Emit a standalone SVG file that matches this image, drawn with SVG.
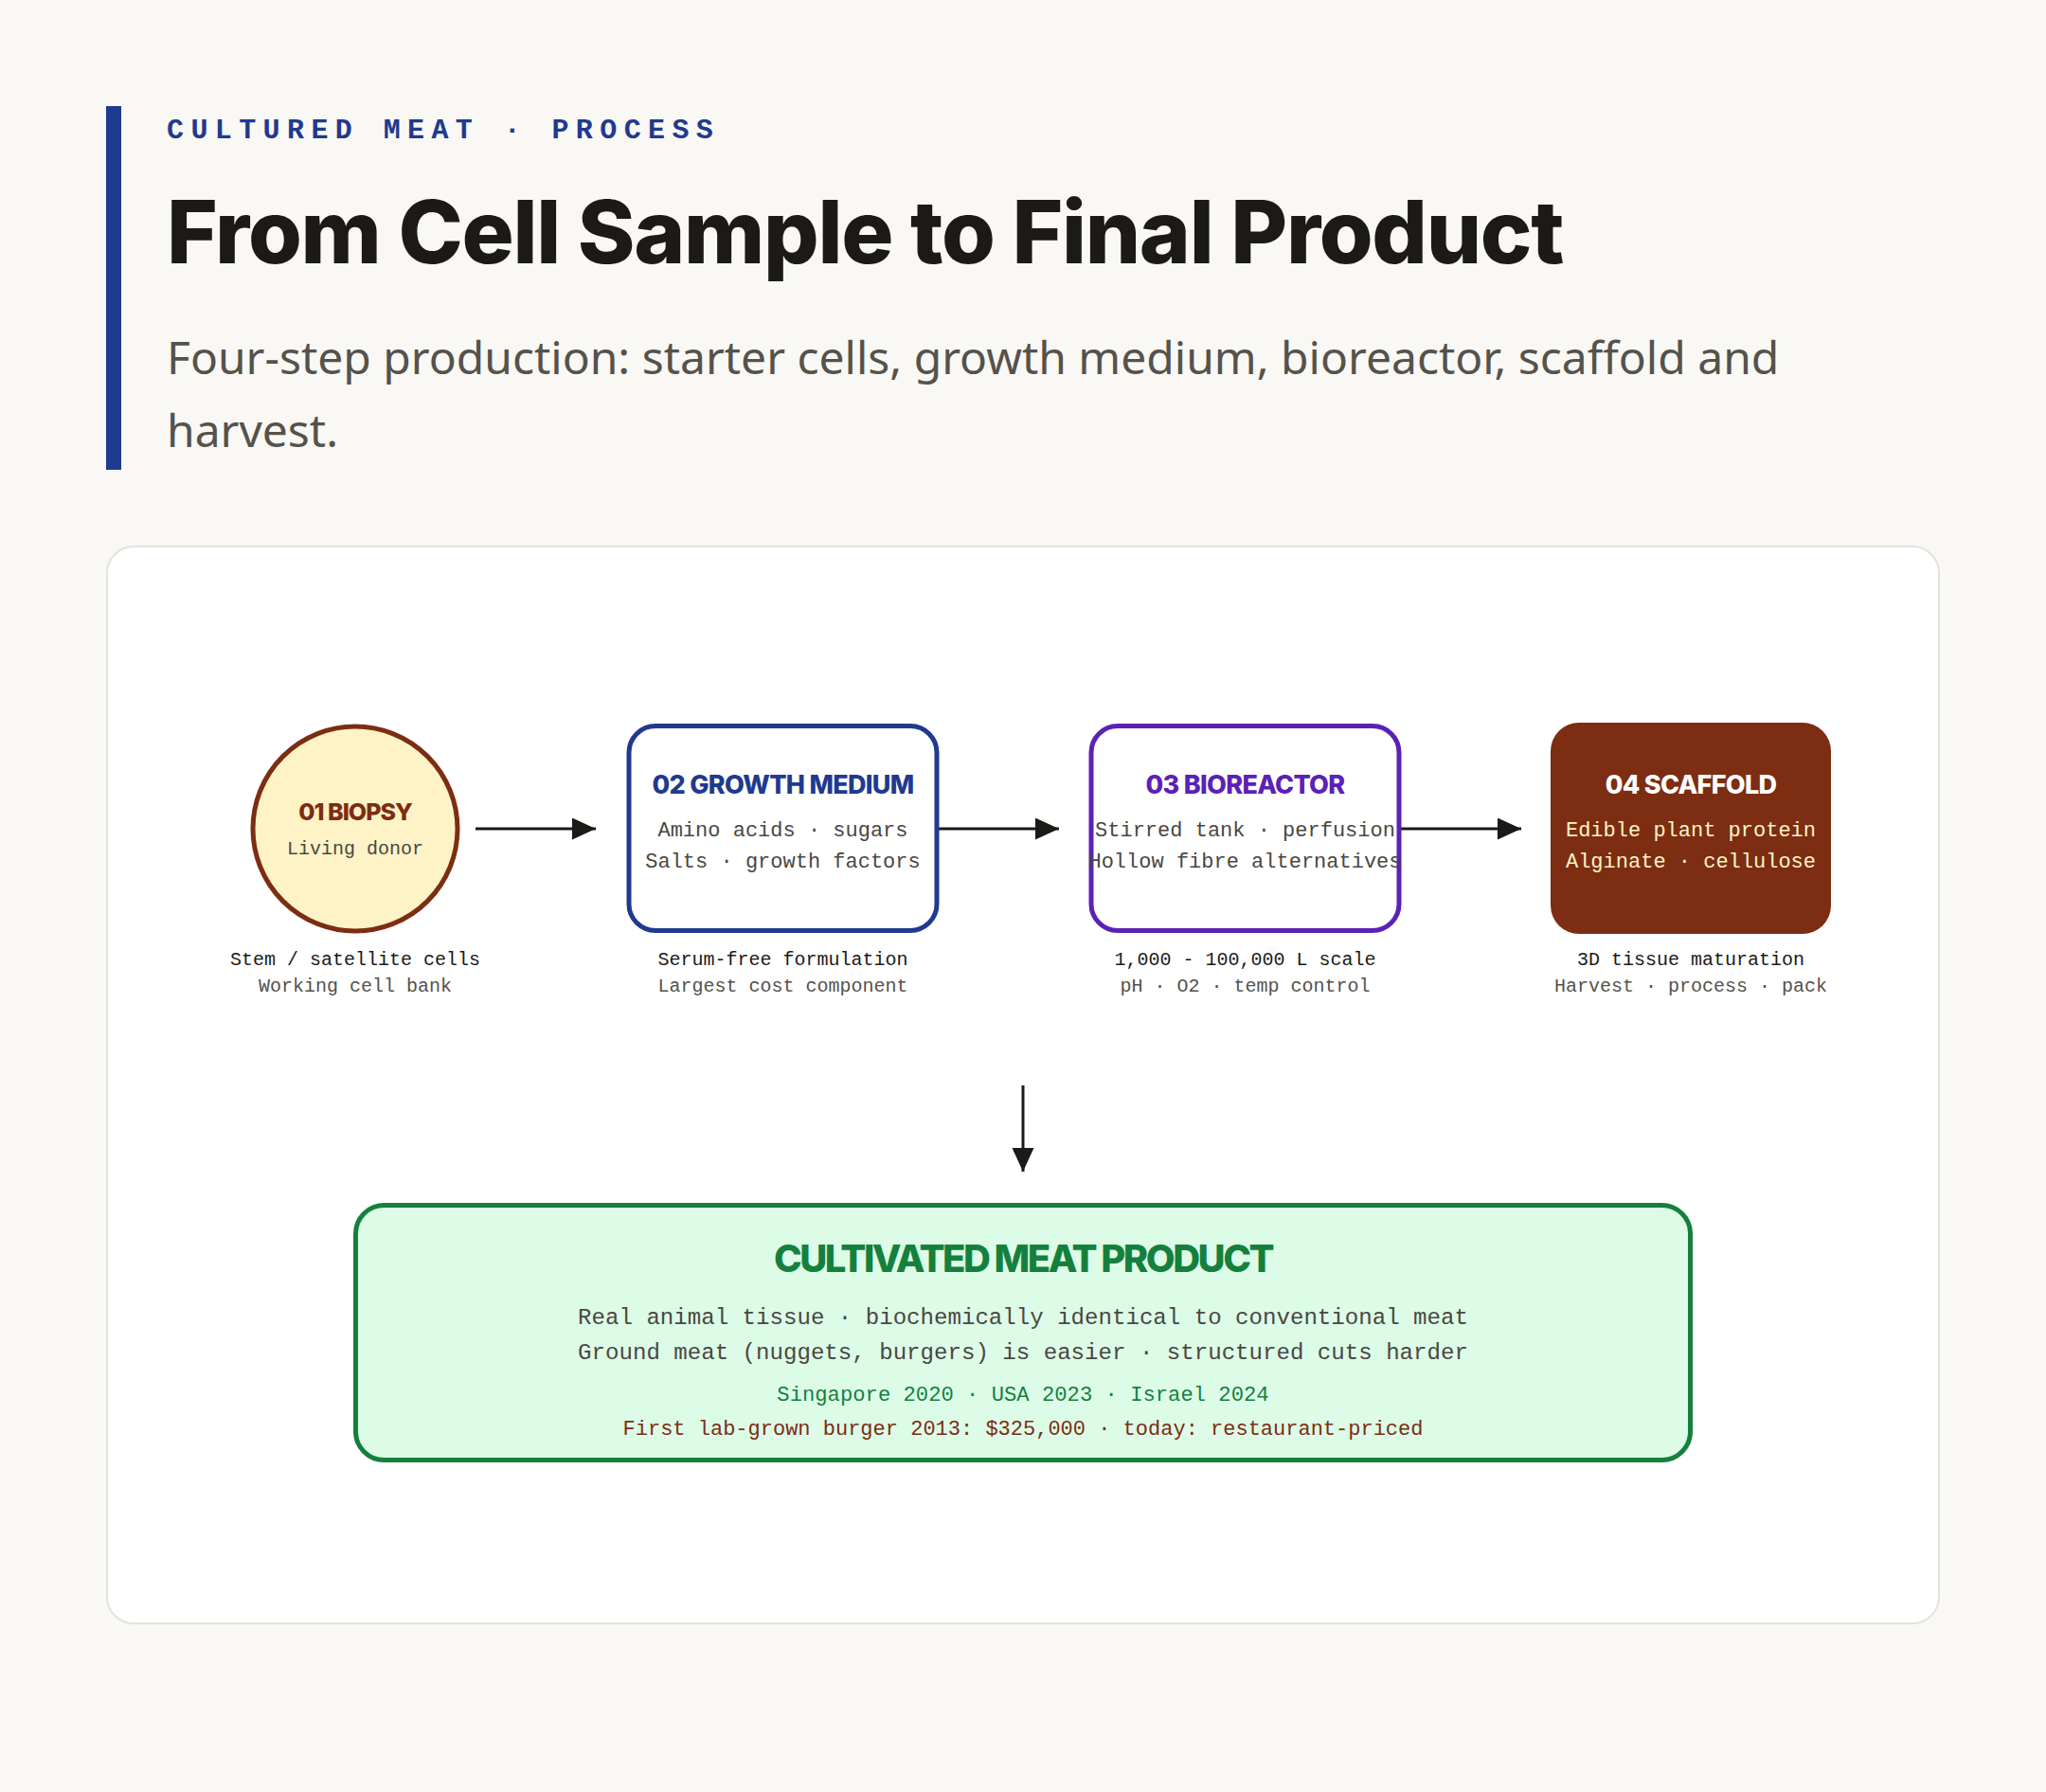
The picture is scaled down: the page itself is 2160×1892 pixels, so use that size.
<svg xmlns="http://www.w3.org/2000/svg" width="2160" height="1892" viewBox="0 0 2160 1892">
<defs>
<style>
.eyebrow{font-family:"Liberation Mono","DejaVu Sans Mono",monospace;font-weight:700;font-size:30px;fill:#1f3a8f;letter-spacing:7.4px}
.title{font-family:Inter,"Liberation Sans",sans-serif;font-weight:800;font-size:92px;fill:#1c1a17;letter-spacing:-1.3px}
.sub{font-family:"Noto Sans","Open Sans",sans-serif;font-size:48px;fill:#55524c}
.nt{font-family:Inter,"Liberation Sans",sans-serif;font-weight:800;font-size:27px;letter-spacing:-0.7px;text-anchor:middle}
.nb{font-family:"Liberation Mono","DejaVu Sans Mono",monospace;font-size:22px;fill:#4a4742;text-anchor:middle}
.s1{font-family:"Liberation Mono","DejaVu Sans Mono",monospace;font-size:20px;fill:#1c1a17;text-anchor:middle}
.s2{font-family:"Liberation Mono","DejaVu Sans Mono",monospace;font-size:20px;fill:#55524c;text-anchor:middle}
.edge{stroke:#1c1a17;stroke-width:3;fill:none}
</style>
<marker id="ah" markerUnits="userSpaceOnUse" markerWidth="26" markerHeight="24" refX="25" refY="11.5" orient="auto">
<path d="M0,0 L25,11.5 L0,23 Z" fill="#1c1a17"/>
</marker>
</defs>
<rect width="2160" height="1892" fill="#f9f8f4"/>
<g id="header">
<rect x="112" y="112" width="16" height="384" fill="#1f3a8f"/>
<text class="eyebrow" x="176" y="146">CULTURED MEAT · PROCESS</text>
<text class="title" x="176" y="278">From Cell Sample to Final Product</text>
<text class="sub" x="176" y="395">Four-step production: starter cells, growth medium, bioreactor, scaffold and</text>
<text class="sub" x="176" y="472">harvest.</text>
</g>
<rect id="card" x="113" y="577" width="1934" height="1137" rx="28" fill="#ffffff" stroke="#e4e2dc" stroke-width="2"/>
<g id="connectors">
<line class="edge" x1="502" y1="875" x2="629" y2="875" marker-end="url(#ah)"/>
<line class="edge" x1="991" y1="875" x2="1118" y2="875" marker-end="url(#ah)"/>
<line class="edge" x1="1478" y1="875" x2="1606" y2="875" marker-end="url(#ah)"/>
<line class="edge" x1="1080" y1="1146" x2="1080" y2="1237" marker-end="url(#ah)"/>
</g>
<g id="n1">
<circle cx="375" cy="875" r="108" fill="#fef3c7" stroke="#7c2d12" stroke-width="5"/>
<text class="nt" x="375" y="866" fill="#7c2d12" style="font-size:25px;letter-spacing:-1px">01 BIOPSY</text>
<text class="nb" x="375" y="902" style="font-size:20px">Living donor</text>
<text class="s1" x="375" y="1019">Stem / satellite cells</text>
<text class="s2" x="375" y="1047">Working cell bank</text>
</g>
<g id="n2">
<rect x="664" y="766.5" width="325" height="216" rx="28" fill="#ffffff" stroke="#1f3a8f" stroke-width="5"/>
<text class="nt" x="826.5" y="838" fill="#1f3a8f">02 GROWTH MEDIUM</text>
<text class="nb" x="826.5" y="883">Amino acids · sugars</text>
<text class="nb" x="826.5" y="916">Salts · growth factors</text>
<text class="s1" x="826.5" y="1019">Serum-free formulation</text>
<text class="s2" x="826.5" y="1047">Largest cost component</text>
</g>
<g id="n3">
<rect x="1152" y="766.5" width="325" height="216" rx="28" fill="#ffffff" stroke="#5b21b6" stroke-width="5"/>
<text class="nt" x="1314.5" y="838" fill="#5b21b6">03 BIOREACTOR</text>
<text class="nb" x="1314.5" y="883">Stirred tank · perfusion</text>
<text class="nb" x="1314.5" y="916">Hollow fibre alternatives</text>
<text class="s1" x="1314.5" y="1019">1,000 - 100,000 L scale</text>
<text class="s2" x="1314.5" y="1047">pH · O2 · temp control</text>
</g>
<g id="n4">
<rect x="1637" y="763" width="296" height="223" rx="30" fill="#7c2d12"/>
<text class="nt" x="1785" y="838" fill="#ffffff">04 SCAFFOLD</text>
<text class="nb" x="1785" y="883" style="fill:#fef3c7">Edible plant protein</text>
<text class="nb" x="1785" y="916" style="fill:#fef3c7">Alginate · cellulose</text>
<text class="s1" x="1785" y="1019">3D tissue maturation</text>
<text class="s2" x="1785" y="1047">Harvest · process · pack</text>
</g>
<g id="product">
<rect x="375.5" y="1272.5" width="1409" height="269" rx="30" fill="#dcfce7" stroke="#15803d" stroke-width="5"/>
<text class="nt" x="1080" y="1343" fill="#15803d" style="font-size:40px;letter-spacing:-2.5px">CULTIVATED MEAT PRODUCT</text>
<text class="nb" x="1080" y="1398" style="font-size:24.1px">Real animal tissue · biochemically identical to conventional meat</text>
<text class="nb" x="1080" y="1435" style="font-size:24.1px">Ground meat (nuggets, burgers) is easier · structured cuts harder</text>
<text class="nb" x="1080" y="1479" style="fill:#15803d;font-size:22.2px">Singapore 2020 · USA 2023 · Israel 2024</text>
<text class="nb" x="1080" y="1515" style="fill:#7c2d12">First lab-grown burger 2013: $325,000 · today: restaurant-priced</text>
</g>
</svg>
